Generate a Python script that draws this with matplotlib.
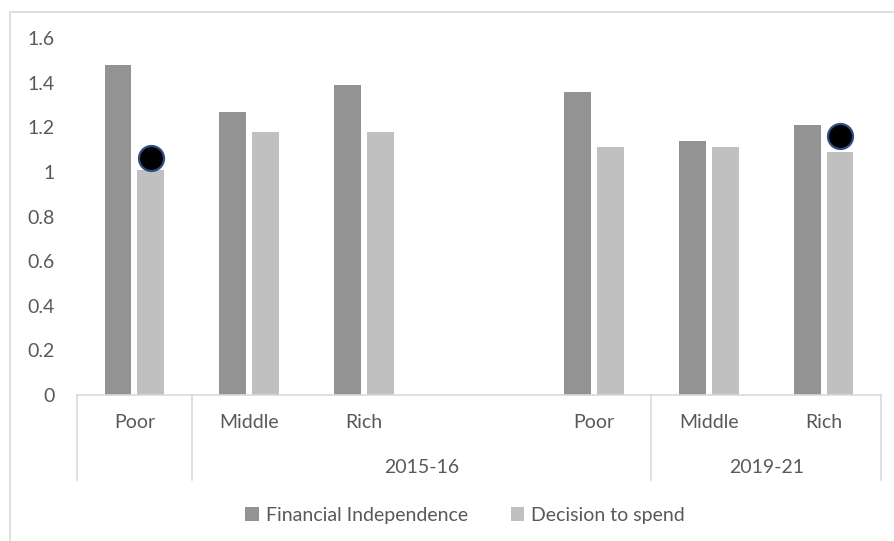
import matplotlib
matplotlib.use("Agg")
import matplotlib.pyplot as plt
import numpy as np
from matplotlib.patches import Rectangle
import matplotlib.transforms as mtransforms

# data
categories = ["Poor", "Middle", "Rich", "", "Poor", "Middle", "Rich"]
financial_independence = [1.48, 1.27, 1.39, np.nan, 1.36, 1.14, 1.21]
decision_to_spend = [1.01, 1.18, 1.18, np.nan, 1.11, 1.11, 1.09]
highlight = [1.06, np.nan, np.nan, np.nan, np.nan, np.nan, 1.16]
groups = [("", 0, 0), ("2015-16", 1, 4), ("2019-21", 5, 6)]
yticks = [0, 0.2, 0.4, 0.6, 0.8, 1, 1.2, 1.4, 1.6]

plt.rcParams["font.family"] = ["Lato", "DejaVu Sans"]
TXT = "#595959"
GRID = "#d9d9d9"
FS = 14

fig = plt.figure(figsize=(8.95, 5.41), dpi=100)
ax = fig.add_axes([77 / 895, 1 - 395 / 541, (881 - 77) / 895, (395 - 38) / 541])

x = np.arange(len(categories))
w = 0.235
off = 0.143
ax.bar(x - off, financial_independence, w, color="#939393", label="Financial Independence")
ax.bar(x + off, decision_to_spend, w, color="#c0c0c0", label="Decision to spend")
ax.plot(x + off, highlight, "o", ms=18, mfc="black", mec="#2e4d80", mew=1.6,
        linestyle="none", clip_on=False)

ax.set_xlim(-0.5, len(categories) - 0.5)
ax.set_ylim(0, 1.6)
ax.set_yticks(yticks)
ax.set_yticklabels([f"{v:g}" for v in yticks])
ax.tick_params(axis="y", length=0, pad=16, labelsize=FS, labelcolor=TXT)
ax.set_xticks([])
for s in ["top", "right", "left"]:
    ax.spines[s].set_visible(False)
ax.spines["bottom"].set_color(GRID)
ax.spines["bottom"].set_linewidth(1.2)

# multi-level category axis
tr = mtransforms.blended_transform_factory(ax.transData, ax.transAxes)
for xi, lab in zip(x, categories):
    ax.text(xi, -0.078, lab, transform=tr, ha="center", va="center",
            fontsize=FS, color=TXT)
line_bottom = -0.238
bounds = set()
for name, a, b in groups:
    bounds.add(a - 0.5)
    bounds.add(b + 0.5)
    if name:
        ax.text((a + b) / 2, -0.202, name, transform=tr, ha="center", va="center",
                fontsize=FS, color=TXT)
for bx in sorted(bounds):
    ax.plot([bx, bx], [0, line_bottom], transform=tr, color=GRID, lw=1.2, clip_on=False)

leg = fig.legend(loc="center", bbox_to_anchor=(465 / 895, 1 - 515 / 541), ncol=2,
                 frameon=False, fontsize=FS, handlelength=0.7, handleheight=0.7,
                 handletextpad=0.35, columnspacing=2.2)
for t in leg.get_texts():
    t.set_color(TXT)

# chart border
fig.patches.append(Rectangle((10 / 895, -0.2), 1.2, 1 - 12 / 541 + 0.2,
                             transform=fig.transFigure, fill=False,
                             edgecolor=GRID, lw=1.2))

fig.savefig("out.png", dpi=100)
